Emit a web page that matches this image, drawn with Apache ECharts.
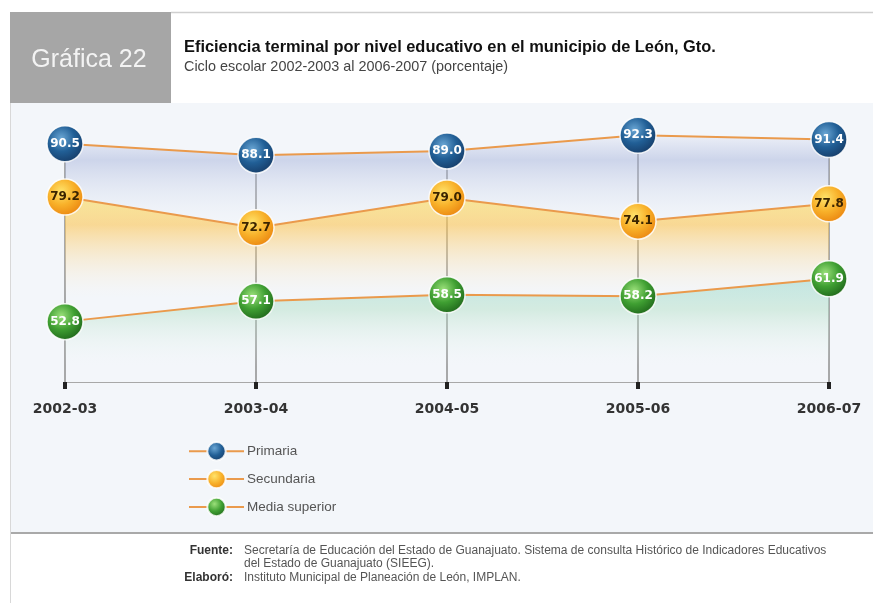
<!DOCTYPE html>
<html>
<head>
<meta charset="utf-8">
<script src="https://cdn.jsdelivr.net/npm/echarts@6/dist/echarts.min.js"></script>
<style>html,body{margin:0;padding:0;background:#fff;}#c{width:873px;height:603px;}</style>
</head>
<body>
<div id="c"></div>
<script>
var categories = ['2002-03', '2003-04', '2004-05', '2005-06', '2006-07'];
var primaria = [90.5, 88.1, 89.0, 92.3, 91.4];
var secundaria = [79.2, 72.7, 79.0, 74.1, 77.8];
var mediaSuperior = [52.8, 57.1, 58.5, 58.2, 61.9];
var seriesNames = ['Primaria', 'Secundaria', 'Media superior'];

var chart = echarts.init(document.getElementById('c'), null, {renderer: 'canvas'});

function radial(c0, c1, c2) {
  return new echarts.graphic.RadialGradient(0.4, 0.35, 0.65, [
    {offset: 0, color: c0}, {offset: 0.55, color: c1}, {offset: 1, color: c2}
  ]);
}
function linear(stops) {
  return new echarts.graphic.LinearGradient(0, 0, 0, 1, stops);
}
var lineColor = '#ea9a4c';
var font = 'Liberation Sans';

function lineSeries(name, data, marker, labelColor, area) {
  return {
    name: name, type: 'line', data: data, z: 3,
    symbol: 'circle', symbolSize: 36,
    lineStyle: {color: lineColor, width: 2},
    itemStyle: {color: marker, borderColor: 'rgba(255,255,255,0.85)', borderWidth: 1.5},
    areaStyle: {color: area, origin: 'start'},
    label: {show: true, position: 'inside', color: labelColor, fontSize: 12, fontWeight: 'bold', fontFamily: 'DejaVu Sans',
            formatter: function (p) { return p.value.toFixed(1); }},
    emphasis: {disabled: true}
  };
}

var option = {
  animation: false,
  backgroundColor: '#ffffff',
  grid: {left: 65, right: 44, top: 99, bottom: 221},
  xAxis: {
    type: 'category', data: categories, boundaryGap: false,
    axisLine: {lineStyle: {color: '#a8a8a8', width: 1}},
    axisTick: {show: true, length: 7, lineStyle: {color: '#222', width: 4}},
    axisLabel: {margin: 20, fontSize: 14, fontWeight: 'bold', color: '#333', fontFamily: 'DejaVu Sans'},
    splitLine: {show: false}
  },
  yAxis: {type: 'value', min: 40, max: 100, show: false, splitLine: {show: false}},
  legend: {
    data: seriesNames, orient: 'vertical', left: 183, top: 436,
    itemWidth: 55, itemHeight: 23, itemGap: 7.5,
    textStyle: {fontSize: 13.5, color: '#555', fontFamily: font, padding: [0, 0, 0, -2]}
  },
  series: [
    {
      type: 'bar', data: primaria, barWidth: 1.5, z: 1, silent: true,
      itemStyle: {color: '#8e8e8e'}, emphasis: {disabled: true}
    },
    lineSeries(seriesNames[0], primaria, radial('#6aa6d4', '#215f96', '#173f6c'), '#ffffff',
      linear([{offset: 0, color: 'rgba(228,232,244,0.7)'}, {offset: 0.1, color: 'rgba(165,178,218,0.7)'}, {offset: 0.4, color: 'rgba(240,244,250,0)'}, {offset: 1, color: 'rgba(255,255,255,0)'}])),
    lineSeries(seriesNames[1], secundaria, radial('#ffe36a', '#f8b12a', '#ec8a12'), '#3a2400',
      linear([{offset: 0, color: 'rgba(255,226,100,0.9)'}, {offset: 0.15, color: 'rgba(253,196,80,0.85)'}, {offset: 0.55, color: 'rgba(250,240,225,0)'}, {offset: 1, color: 'rgba(255,255,255,0)'}])),
    lineSeries(seriesNames[2], mediaSuperior, radial('#9be07a', '#3f9f32', '#226c1d'), '#ffffff',
      linear([{offset: 0, color: 'rgba(160,220,215,0.85)'}, {offset: 0.3, color: 'rgba(175,222,195,0.65)'}, {offset: 0.85, color: 'rgba(240,248,245,0)'}, {offset: 1, color: 'rgba(255,255,255,0)'}]))
  ],
  graphic: [
    {type: 'rect', z: -10, shape: {x: 11, y: 103, width: 862, height: 430}, style: {fill: '#f3f6fa'}},
    {type: 'rect', z: 5, shape: {x: 10, y: 12, width: 161, height: 91}, style: {fill: '#a6a6a6'}},
    {type: 'line', z: 5, shape: {x1: 171, y1: 12.5, x2: 873, y2: 12.5}, style: {stroke: '#cfcfcf', lineWidth: 1.5}},
    {type: 'line', z: 5, shape: {x1: 10.5, y1: 103, x2: 10.5, y2: 603}, style: {stroke: '#d8d8d8', lineWidth: 1}},
    {type: 'line', z: 5, shape: {x1: 11, y1: 533, x2: 873, y2: 533}, style: {stroke: '#a9a9a9', lineWidth: 2}},
    {type: 'text', z: 6, x: 89, y: 60, style: {text: 'Gráfica 22', fill: '#f3f3f3', fontSize: 25, fontFamily: font, align: 'center', verticalAlign: 'middle'}},
    {type: 'text', z: 6, x: 184, y: 47, style: {text: 'Eficiencia terminal por nivel educativo en el municipio de León, Gto.', fill: '#111', fontSize: 16.4, fontWeight: 'bold', fontFamily: font, verticalAlign: 'middle'}},
    {type: 'text', z: 6, x: 184, y: 67, style: {text: 'Ciclo escolar 2002-2003 al 2006-2007 (porcentaje)', fill: '#444', fontSize: 14.4, fontFamily: font, verticalAlign: 'middle'}},
    {type: 'text', z: 6, x: 233, y: 551, style: {text: 'Fuente:', fill: '#333', fontSize: 12, fontWeight: 'bold', fontFamily: font, align: 'right', verticalAlign: 'middle'}},
    {type: 'text', z: 6, x: 244, y: 551, style: {text: 'Secretaría de Educación del Estado de Guanajuato. Sistema de consulta Histórico de Indicadores Educativos', fill: '#555', fontSize: 12, fontFamily: font, verticalAlign: 'middle'}},
    {type: 'text', z: 6, x: 244, y: 564, style: {text: 'del Estado de Guanajuato (SIEEG).', fill: '#555', fontSize: 12, fontFamily: font, verticalAlign: 'middle'}},
    {type: 'text', z: 6, x: 233, y: 578, style: {text: 'Elaboró:', fill: '#333', fontSize: 12, fontWeight: 'bold', fontFamily: font, align: 'right', verticalAlign: 'middle'}},
    {type: 'text', z: 6, x: 244, y: 578, style: {text: 'Instituto Municipal de Planeación de León, IMPLAN.', fill: '#555', fontSize: 12, fontFamily: font, verticalAlign: 'middle'}}
  ]
};
chart.setOption(option);
</script>
</body>
</html>
